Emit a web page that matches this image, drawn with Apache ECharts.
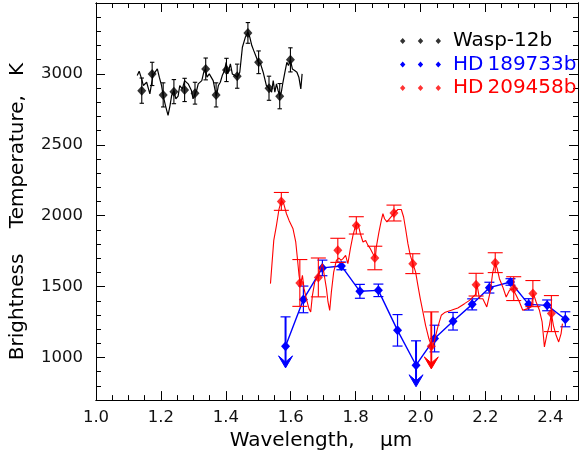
<!DOCTYPE html>
<html><head><meta charset="utf-8">
<script src="https://cdn.jsdelivr.net/npm/echarts@6/dist/echarts.min.js"></script>
<style>html,body{margin:0;padding:0;background:#fff}#c{width:581px;height:456px}</style>
</head><body><div id="c"></div>
<script>
// ---- Wasp-12b (black) ----
const waspX = [1.141, 1.173, 1.207, 1.240, 1.273, 1.305, 1.338, 1.370, 1.402, 1.435, 1.468, 1.501, 1.533, 1.566, 1.599];
const waspY = [2882, 3000, 2852, 2875, 2887, 2864, 3035, 2852, 3028, 2984, 3289, 3082, 2899, 2843, 3099];
const waspErr = [89, 82, 85, 85, 82, 77, 77, 85, 82, 85, 73, 80, 85, 89, 85];
const waspLineX = [1.127,1.133,1.1405,1.146,1.151,1.156,1.161,1.166,1.171,1.176,1.182,1.189,1.195,1.202,1.207,1.214,1.222,1.228,1.233,1.240,1.246,1.253,1.258,1.266,1.273,1.279,1.284,1.289,1.294,1.299,1.305,1.310,1.315,1.320,1.326,1.332,1.337,1.342,1.349,1.355,1.361,1.367,1.371,1.377,1.383,1.389,1.396,1.401,1.406,1.414,1.420,1.428,1.435,1.443,1.451,1.460,1.468,1.474,1.480,1.486,1.494,1.500,1.507,1.515,1.525,1.533,1.541,1.546,1.551,1.556,1.561,1.566,1.571,1.576,1.582,1.588,1.593,1.599,1.605,1.612,1.619,1.625,1.631,1.635];
const waspLineY = [2988,3019,2965,2918,2906,2941,2946,2859,2930,2993,3012,3035,2977,2918,2847,2777,2707,2777,2847,2883,2824,2843,2918,2894,2953,2965,2930,2941,2883,2824,2859,2883,2930,2941,2953,3012,3035,2977,3000,2988,2953,2883,2843,2918,2941,2988,3024,3082,3000,3071,3000,2988,2977,3012,3188,3258,3293,3258,3200,3164,3117,3082,3071,3012,2918,2899,2871,2953,2871,2930,2883,2847,2871,2941,3012,3082,3059,3099,3035,3024,3012,2977,2894,3000];

// ---- HD 189733b (blue) ----
const hd189X = [1.584, 1.639, 1.6975, 1.756, 1.813, 1.870, 1.929, 1.986, 2.043, 2.100, 2.159, 2.212, 2.277, 2.333, 2.390, 2.446];
const hd189Y = [1080, 1410, 1632, 1646, 1467, 1474, 1192, 946, 1134, 1256, 1375, 1493, 1533, 1375, 1368, 1270];
const hd189Err = [null, 94, 55, 27, 49, 44, 111, null, 94, 62, 39, 38, 23, 40, 38, 53];
const hd189LimX = [1.584, 1.986];
const hd189LimTop = [1287, 1118];
const hd189LimTip = [927, 794];

// ---- HD 209458b (red) ----
const hd209X = [1.571, 1.628, 1.685, 1.745, 1.802, 1.859, 1.918, 1.976, 2.033, 2.171, 2.230, 2.287, 2.346, 2.403];
const hd209Y = [2101, 1526, 1565, 1756, 1932, 1702, 2019, 1662, 1080, 1514, 1669, 1486, 1451, 1310];
const hd209Err = [63, 165, 137, 85, 61, 83, 56, 70, null, 80, 70, 84, 92, 127];
const hd209LimX = [2.033];
const hd209LimTop = [1322];
const hd209LimTip = [920];
const hd209LineX = [1.5375,1.5477,1.556,1.564,1.5714,1.5785,1.5868,1.5948,1.607,1.6154,1.6206,1.6255,1.6298,1.636,1.641,1.648,1.656,1.6615,1.6668,1.674,1.684,1.6914,1.6975,1.7025,1.71,1.7148,1.72,1.7252,1.7323,1.7406,1.7486,1.7548,1.761,1.769,1.776,1.7837,1.7917,1.8,1.807,1.8145,1.8225,1.8308,1.838,1.8452,1.8532,1.8606,1.8637,1.8717,1.879,1.884,1.889,1.8963,1.9046,1.913,1.92,1.930,1.9406,1.9477,1.9538,1.961,1.9683,1.9763,1.9846,1.9917,1.999,2.0052,2.0154,2.0255,2.036,2.043,2.0532,2.0637,2.074,2.0945,2.1148,2.1354,2.1508,2.161,2.1692,2.1732,2.1815,2.1917,2.204,2.2145,2.2225,2.23,2.236,2.243,2.2532,2.2637,2.274,2.284,2.2945,2.3046,2.3148,2.3302,2.3406,2.3477,2.356,2.3662,2.3745,2.3815,2.3886,2.3969,2.403,2.4092,2.4175,2.4255,2.4329,2.437];
const hd209LineY = [1521,1826,1932,2049,2108,2084,2014,1967,1908,1815,1697,1580,1509,1580,1486,1415,1345,1322,1439,1533,1568,1627,1662,1592,1486,1392,1333,1463,1603,1685,1702,1685,1697,1720,1662,1768,1861,1932,1944,1873,1815,1826,1791,1768,1732,1702,1780,1885,1967,2014,1979,1956,1979,2002,2021,2044,2044,1991,1908,1803,1720,1662,1604,1509,1415,1345,1227,1134,1063,1122,1216,1298,1317,1333,1350,1380,1403,1427,1444,1521,1415,1415,1357,1463,1603,1669,1627,1556,1498,1427,1474,1486,1439,1392,1333,1345,1357,1451,1392,1333,1251,1075,1157,1227,1310,1227,1157,1110,1169,1239];

// ---- axes ----
const xMin = 1.0, xMax = 2.485, yMin = 700, yMax = 3500;
const xLabelStep = 0.2, yLabelStep = 500;

const zip = (a, b) => a.map((v, i) => [v, b[i]]);
const FONT = 'DejaVu Sans';

function errorBars(xs, ys, errs, limX, limTop, limTip, color, capHalf, lw, z) {
  const data = [];
  xs.forEach((x, i) => { if (errs[i] != null) data.push([x, ys[i] - errs[i], ys[i] + errs[i], 0]); });
  limX.forEach((x, i) => data.push([x, limTip[i], limTop[i], 1]));
  return {
    type: 'custom', silent: true, z: z, data: data,
    encode: { x: 0, y: [1, 2] },
    renderItem: function (params, api) {
      const x = api.value(0), lo = api.value(1), hi = api.value(2), lim = api.value(3);
      const pLo = api.coord([x, lo]), pHi = api.coord([x, hi]);
      const st = { stroke: color, lineWidth: lw, fill: null };
      const ch = [
        { type: 'line', shape: { x1: pHi[0], y1: pHi[1], x2: pLo[0], y2: lim ? pLo[1] - 4 : pLo[1] }, style: lim ? { stroke: color, lineWidth: lw + 0.8 } : st },
        { type: 'line', shape: { x1: pHi[0] - capHalf, y1: pHi[1], x2: pHi[0] + capHalf, y2: pHi[1] }, style: st }
      ];
      if (!lim) {
        ch.push({ type: 'line', shape: { x1: pLo[0] - capHalf, y1: pLo[1], x2: pLo[0] + capHalf, y2: pLo[1] }, style: st });
      } else {
        const cx = pLo[0], ty = pLo[1];
        ch.push({ type: 'polygon', shape: { points: [[cx, ty], [cx - 7, ty - 12], [cx, ty - 6], [cx + 7, ty - 12]] }, style: { fill: color, stroke: color, lineWidth: 1 } });
      }
      return { type: 'group', children: ch };
    }
  };
}

const tickStyle = { color: '#000', width: 1 };
function xAx(pos, step, len, labels) {
  return {
    type: 'value', position: pos, min: xMin, max: xMax, interval: step,
    axisLine: { show: true, onZero: false, lineStyle: tickStyle },
    axisTick: { show: true, inside: true, length: len, lineStyle: tickStyle },
    splitLine: { show: false },
    axisLabel: labels ? {
      show: true, fontSize: 16.5, color: '#111', fontFamily: FONT, margin: 9,
      formatter: v => (Math.abs(v / xLabelStep - Math.round(v / xLabelStep)) < 1e-6 && v < xMax) ? v.toFixed(1) : ''
    } : { show: false },
    name: labels ? 'Wavelength,    μm' : '', nameLocation: 'middle', nameGap: 30,
    nameTextStyle: { fontSize: 20, color: '#000', fontFamily: FONT, padding: [0, 32, 0, 0] }
  };
}
function yAx(pos, step, len, labels) {
  const a = {
    type: 'value', position: pos, min: yMin, max: yMax,
    axisLine: { show: true, onZero: false, lineStyle: tickStyle },
    axisTick: { show: true, inside: true, length: len, lineStyle: tickStyle },
    splitLine: { show: false },
    axisLabel: labels ? {
      show: true, fontSize: 16.5, color: '#111', fontFamily: FONT, margin: 13,
      formatter: v => (v % yLabelStep === 0 && v >= 1000 && v < yMax) ? String(v) : ''
    } : { show: false },
    name: labels ? 'Brightness    Temperature,   K' : '', nameLocation: 'middle', nameGap: 68,
    nameTextStyle: { fontSize: 20, color: '#000', fontFamily: FONT, padding: [0, 20, 0, 0] }
  };
  if (step) a.interval = step; else a.splitNumber = 5;
  return a;
}

const chart = echarts.init(document.getElementById('c'), null, { renderer: 'canvas' });
chart.setOption({
  animation: false,
  backgroundColor: '#fff',
  textStyle: { fontFamily: FONT },
  grid: { left: 96, right: 1, top: 3, bottom: 54, containLabel: false },
  xAxis: [xAx('bottom', 0.05, 5, true), xAx('bottom', 0.2, 9, false), xAx('top', 0.05, 5, false), xAx('top', 0.2, 9, false)],
  yAxis: [yAx('left', 100, 5, true), yAx('left', null, 9, false), yAx('right', 100, 5, false), yAx('right', null, 9, false)],
  legend: {
    orient: 'vertical', left: 395, top: 26, itemGap: 3.5, itemWidth: 41, itemHeight: 6,
    icon: 'path://M0 3 L2.7 0 L5.4 3 L2.7 6 Z M17.8 3 L20.5 0 L23.2 3 L20.5 6 Z M35.6 3 L38.3 0 L41 3 L38.3 6 Z',
    textStyle: { fontSize: 20, fontFamily: FONT, padding: [0, 0, 0, 7] },
    data: [
      { name: 'Wasp-12b', textStyle: { color: '#000' } },
      { name: 'HD\u2009189733b', textStyle: { color: '#0000ff' } },
      { name: 'HD\u2009209458b', textStyle: { color: '#ff0000' } }
    ]
  },
  series: [
    { type: 'line', name: 'wasp-spectrum', data: zip(waspLineX, waspLineY), showSymbol: false, symbol: 'none', lineStyle: { color: '#000', width: 1.2 }, z: 2, silent: true },
    errorBars(waspX, waspY, waspErr, [], [], [], '#000', 2.2, 1.1, 3),
    { type: 'scatter', name: 'Wasp-12b', data: zip(waspX, waspY), symbol: 'diamond', symbolSize: [9, 10], itemStyle: { color: '#000' }, z: 4 },
    errorBars(hd189X, hd189Y, hd189Err, hd189LimX, hd189LimTop, hd189LimTip, '#0000ff', 5, 1.2, 3),
    { type: 'line', name: 'HD\u2009189733b', data: zip(hd189X, hd189Y), symbol: 'diamond', symbolSize: [9, 10], showSymbol: true, itemStyle: { color: '#0000ff' }, lineStyle: { color: '#0000ff', width: 1.4 }, z: 4 },
    { type: 'line', name: 'hd209-spectrum', data: zip(hd209LineX, hd209LineY), showSymbol: false, symbol: 'none', lineStyle: { color: '#ff0000', width: 1.1 }, z: 5, silent: true },
    errorBars(hd209X, hd209Y, hd209Err, hd209LimX, hd209LimTop, hd209LimTip, '#ff0000', 7.5, 1.1, 6),
    { type: 'scatter', name: 'HD\u2009209458b', data: zip(hd209X, hd209Y), symbol: 'diamond', symbolSize: [9, 10], itemStyle: { color: '#ff0000' }, z: 7 }
  ]
});
</script></body></html>
